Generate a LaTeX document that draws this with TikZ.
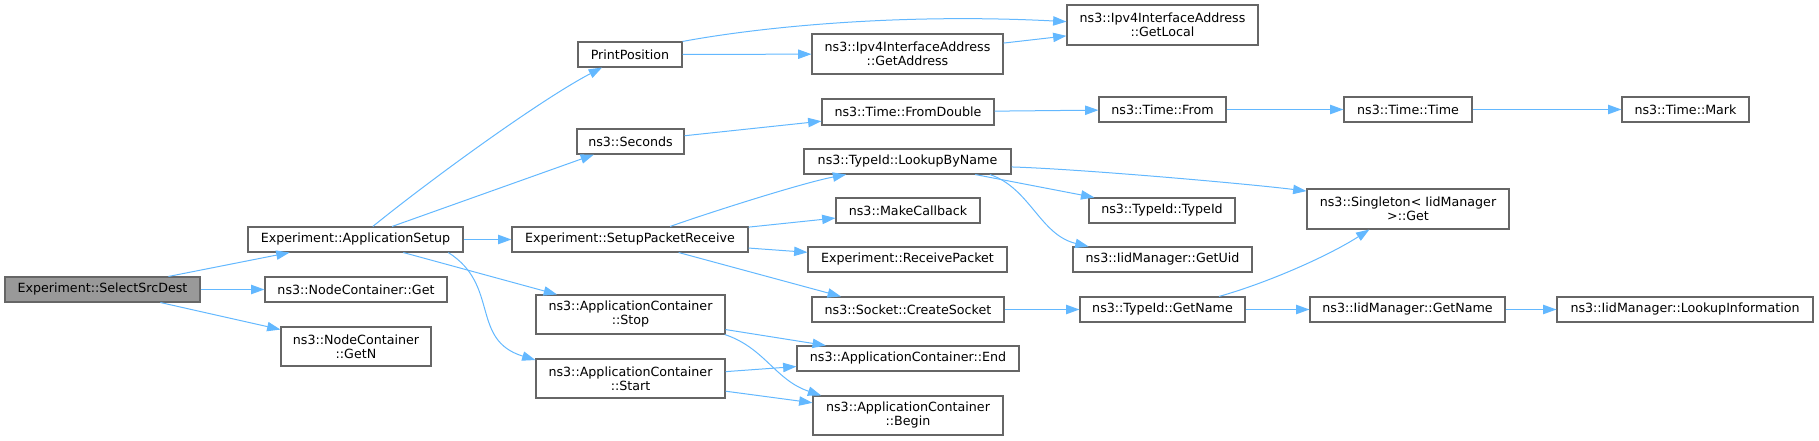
\documentclass[tikz,border=0pt]{standalone}
\usepackage{fontspec}
\setmainfont{DejaVu Sans}
\usetikzlibrary{arrows.meta}
\definecolor{edgeblue}{HTML}{63B8FF}
\definecolor{nodeborder}{HTML}{666666}
\definecolor{rootfill}{HTML}{999999}
\tikzset{
	fn/.style={draw=nodeborder, line width=0.8pt, fill=white, inner sep=0pt, align=center, font=\fontsize{9.5}{10.5}\selectfont},
	sz/.style 2 args={minimum width=#1*0.75pt, minimum height=#2*0.75pt},
	call/.style={draw=edgeblue, line width=0.75pt, -{Triangle[length=10pt,width=7pt]}}
}
\begin{document}
\begin{tikzpicture}[x=0.75pt,y=-0.75pt]
		\useasboundingbox (0,0) rectangle (1819,441);
		\node[fn, sz={195}{25}, fill=rootfill] (sel) at (102.5,289.5) {Experiment::SelectSrcDest};
		\node[fn, sz={215}{25}] (appsetup) at (355.5,239.5) {Experiment::ApplicationSetup};
		\node[fn, sz={182}{25}] (ncget) at (356,289.5) {ns3::NodeContainer::Get};
		\node[fn, sz={150}{39}] (ncgetn) at (356,346.5) {ns3::NodeContainer\\::GetN};
		\node[fn, sz={104}{25}] (printpos) at (630,54.5) {PrintPosition};
		\node[fn, sz={107}{25}] (seconds) at (630.5,141.5) {ns3::Seconds};
		\node[fn, sz={236}{25}] (setuprecv) at (630,239.5) {Experiment::SetupPacketReceive};
		\node[fn, sz={189}{39}] (acstop) at (630.5,314.5) {ns3::ApplicationContainer\\::Stop};
		\node[fn, sz={189}{39}] (acstart) at (630.5,378.5) {ns3::ApplicationContainer\\::Start};
		\node[fn, sz={191}{40}] (getaddr) at (907.5,54) {ns3::Ipv4InterfaceAddress\\::GetAddress};
		\node[fn, sz={172}{26}] (fromdbl) at (908,112) {ns3::Time::FromDouble};
		\node[fn, sz={207}{25}] (lookup) at (907.5,161.5) {ns3::TypeId::LookupByName};
		\node[fn, sz={144}{25}] (mkcb) at (908,210.5) {ns3::MakeCallback};
		\node[fn, sz={199}{25}] (recvpkt) at (907.5,259.5) {Experiment::ReceivePacket};
		\node[fn, sz={192}{25}] (mksock) at (908,309.5) {ns3::Socket::CreateSocket};
		\node[fn, sz={222}{25}] (acend) at (908,358.5) {ns3::ApplicationContainer::End};
		\node[fn, sz={190}{39}] (acbegin) at (908,415.5) {ns3::ApplicationContainer\\::Begin};
		\node[fn, sz={191}{40}] (getlocal) at (1162.5,25) {ns3::Ipv4InterfaceAddress\\::GetLocal};
		\node[fn, sz={127}{25}] (tfrom) at (1162.5,109.5) {ns3::Time::From};
		\node[fn, sz={146}{25}] (tidtid) at (1162,210.5) {ns3::TypeId::TypeId};
		\node[fn, sz={179}{25}] (getuid) at (1162.5,259.5) {ns3::IidManager::GetUid};
		\node[fn, sz={165}{25}] (tidname) at (1162.5,309.5) {ns3::TypeId::GetName};
		\node[fn, sz={128}{25}] (ttime) at (1408,109.5) {ns3::Time::Time};
		\node[fn, sz={202}{40}] (singleton) at (1408,209) {ns3::Singleton< IidManager\\ >::Get};
		\node[fn, sz={195}{25}] (iidname) at (1407.5,309.5) {ns3::IidManager::GetName};
		\node[fn, sz={127}{25}] (tmark) at (1685.5,109.5) {ns3::Time::Mark};
		\node[fn, sz={256}{25}] (lookupinfo) at (1685,309.5) {ns3::IidManager::LookupInformation};
		\foreach \a/\b in {sel/appsetup, sel/ncget, sel/ncgetn, appsetup/seconds, appsetup/setuprecv,
			appsetup/acstop, printpos/getaddr, getaddr/getlocal, seconds/fromdbl, fromdbl/tfrom,
			tfrom/ttime, ttime/tmark, setuprecv/mkcb, setuprecv/recvpkt, lookup/tidtid,
			mksock/tidname, tidname/iidname, iidname/lookupinfo, acstop/acend, acstart/acend,
			acstart/acbegin}
		\draw[call] (\a) -- (\b);
		\draw[call] (appsetup.37) .. controls (430,180) and (540,100) .. (printpos.205);
		\draw[call] (appsetup.-8) .. controls (500,285) and (470,340) .. (acstart.169);
		\draw[call] (printpos.north east) .. controls (760,27) and (900,13) .. (getlocal.178);
		\draw[call] (setuprecv.18) .. controls (708,213) and (802,183) .. (lookup.192);
		\draw[call] (setuprecv.-15) -- (mksock.169);
		\draw[call] (lookup.-3) .. controls (1080,169) and (1250,184) .. (singleton.170);
		\draw[call] (lookup.-9) .. controls (1030,188) and (1040,235) .. (getuid.170);
		\draw[call] (tidname.13) .. controls (1270,282) and (1330,255) .. (singleton.208);
		\draw[call] (acstop.-12) .. controls (765,348) and (775,380) .. (acbegin.167);
\end{tikzpicture}
\end{document}
